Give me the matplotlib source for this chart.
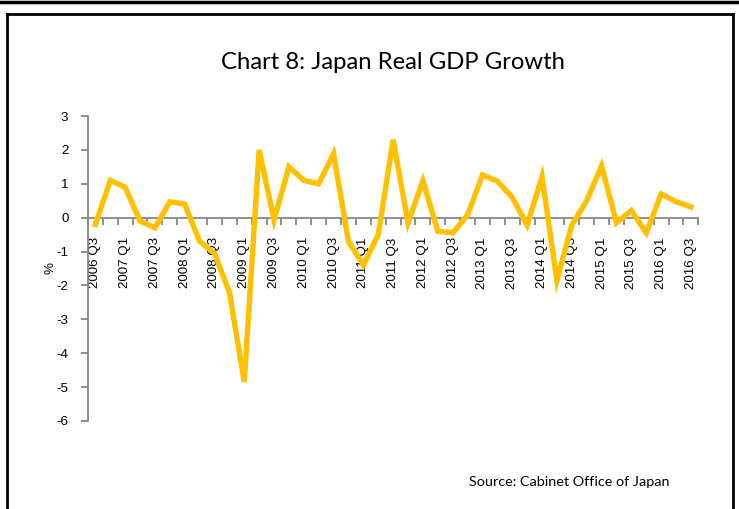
import matplotlib
matplotlib.use("Agg")
import matplotlib.pyplot as plt
from matplotlib.lines import Line2D

# quarterly real GDP growth, % q/q, 2006 Q3 .. 2016 Q3
quarters = ["%d Q%d" % (y, q) for y in range(2006, 2017) for q in range(1, 5)][2:-1]
growth = [-0.2, 1.1, 0.9, -0.1, -0.3, 0.47, 0.4, -0.7, -1.05, -2.2,
          -4.85, 2.0, -0.07, 1.5, 1.1, 1.0, 1.88, -0.7, -1.4, -0.5,
          2.3, -0.15, 1.09, -0.4, -0.45, 0.08, 1.26, 1.08, 0.6, -0.22,
          1.21, -1.85, -0.22, 0.5, 1.53, -0.15, 0.21, -0.45, 0.7, 0.47,
          0.32]
yticks = [3, 2, 1, 0, -1, -2, -3, -4, -5, -6]

grey = "#868686"
tick_font = {"family": "Liberation Sans", "size": 9.6}

fig = plt.figure(figsize=(7.39, 5.09), dpi=100)
ax = fig.add_axes([0.119, 0.173, 0.826, 0.599])

x = range(len(growth))
ax.plot(x, growth, color="#FFC000", lw=3.9, solid_joinstyle="miter", zorder=3)

ax.set_xlim(-0.5, len(growth) - 0.5)
ax.set_ylim(-6, 3)

# category axis crosses at zero, tick marks between categories
ax.spines["bottom"].set_position(("data", 0))
ax.spines["top"].set_visible(False)
ax.spines["right"].set_visible(False)
for s in ["bottom", "left"]:
    ax.spines[s].set_color(grey)
    ax.spines[s].set_linewidth(1.3)

ax.set_xticks([i - 0.5 for i in range(len(growth) + 1)], minor=True)
ax.set_xticks(list(x)[::2])
ax.set_xticklabels(quarters[::2], rotation=90, fontdict=tick_font)
ax.tick_params(axis="x", which="major", length=0, pad=14)
ax.tick_params(axis="x", which="minor", length=5, color=grey, width=1.3,
               direction="out")

ax.set_yticks(yticks)
ax.set_yticklabels([str(v) for v in yticks], fontdict=tick_font)
ax.tick_params(axis="y", length=5, color=grey, width=1.3, direction="out",
               pad=9)
ax.set_ylabel("%", fontdict=tick_font, labelpad=0)

fig.text(0.532, 0.878, "Chart 8: Japan Real GDP Growth", ha="center",
         va="center", fontsize=17.2, family="Lato")
fig.text(0.770, 0.053, "Source: Cabinet Office of Japan", ha="center",
         va="center", fontsize=10.4, family="Lato")

# frames
W, H = 739.0, 509.0
def fline(x0, y0, x1, y1, lw=2.0):
    fig.add_artist(Line2D([x0 / W, x1 / W], [1 - y0 / H, 1 - y1 / H],
                          color="black", lw=lw, transform=fig.transFigure))

fline(0, 2, W, 2, lw=2.5)
fline(7, 14, 733, 14)
fline(7, 14, 7, H)
fline(733, 14, 733, H)

fig.savefig("out.png", dpi=100)
